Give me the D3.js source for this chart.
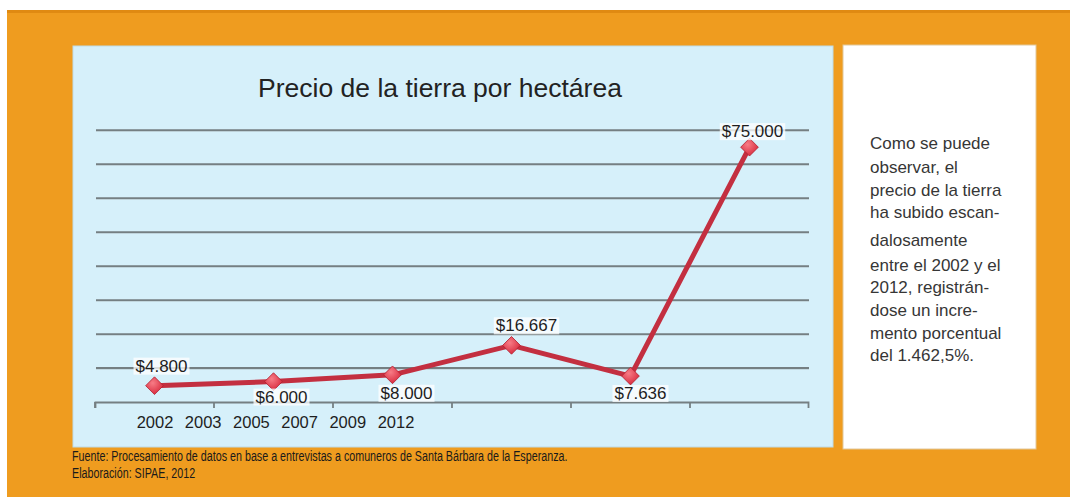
<!DOCTYPE html>
<html>
<head>
<meta charset="utf-8">
<script src="https://cdn.jsdelivr.net/npm/d3@7"></script>
<style>
  body { margin: 0; background: #fff; }
  svg { display: block; }
</style>
</head>
<body>
<div id="chart-area"></div>
<script>
// data
var categories = ["c1", "c2", "c3", "c4", "c5", "c6"];
var prices = [4800, 6000, 8000, 16667, 7636, 75000];
var priceLabels = ["$4.800", "$6.000", "$8.000", "$16.667", "$7.636", "$75.000"];
var yearLabels = ["2002", "2003", "2005", "2007", "2009", "2012"];
var noteLines = ["Como se puede", "observar, el", "precio de la tierra", "ha subido escan-",
    "dalosamente", "entre el 2002 y el", "2012, registrán-", "dose un incre-",
    "mento porcentual", "del 1.462,5%."];

var W = 1070, H = 499;
var svg = d3.select("#chart-area").append("svg")
    .attr("width", W).attr("height", H);

var defs = svg.append("defs");
var grad = defs.append("radialGradient").attr("id", "dia")
    .attr("cx", "40%").attr("cy", "35%").attr("r", "70%");
grad.append("stop").attr("offset", "0%").attr("stop-color", "#f77c86");
grad.append("stop").attr("offset", "100%").attr("stop-color", "#d7263a");

// background
svg.append("rect").attr("x", 7).attr("y", 10).attr("width", W - 7).attr("height", 487)
    .attr("fill", "#ef9c1f");
svg.append("rect").attr("x", 7).attr("y", 10).attr("width", W - 7).attr("height", 3)
    .attr("fill", "#e08a12");

// chart panel
svg.append("rect").attr("x", 73).attr("y", 46).attr("width", 760).attr("height", 401)
    .attr("fill", "#d6f0fa").attr("stroke", "#bfdbe6").attr("stroke-width", 1);

// note box
svg.append("rect").attr("x", 843).attr("y", 45).attr("width", 193).attr("height", 404)
    .attr("fill", "#ffffff").attr("stroke", "#e2c79a").attr("stroke-width", 1);

var margin = { left: 95, top: 120 };
var width = 809 - 95;
var height = 402 - 120;

var g = svg.append("g").attr("transform", "translate(" + margin.left + "," + margin.top + ")");

var x = d3.scaleBand().domain(categories).range([0, width]);
var y = d3.scaleLinear().domain([0, 83000]).range([height, 0]);

// gridlines
var ticks = d3.range(10000, 80001, 10000);
g.selectAll(".grid").data(ticks).enter().append("line")
    .attr("x1", 1).attr("x2", width)
    .attr("y1", d => y(d) + 1).attr("y2", d => y(d) + 1)
    .attr("stroke", "#b3c3c9").attr("stroke-width", 1);
g.selectAll(".grid2").data(ticks).enter().append("line")
    .attr("x1", 1).attr("x2", width)
    .attr("y1", d => y(d)).attr("y2", d => y(d))
    .attr("stroke", "#757f82").attr("stroke-width", 1.8);

// x axis
var xAxis = g.append("g").attr("transform", "translate(0," + height + ")")
    .call(d3.axisBottom(x).tickSize(6).tickFormat("").tickSizeOuter(6));
xAxis.select(".domain").attr("stroke", "#757f82").attr("stroke-width", 1.8)
    .attr("d", "M0.5,6V0.5H" + (width - 0.5) + "V6");
xAxis.selectAll(".tick line").attr("transform", "translate(" + (-x.bandwidth() / 2) + ",0)")
    .attr("stroke", "#757f82").attr("stroke-width", 1.8);

// year labels, crowded under the first bands as in the source
var yearPos = d3.scalePoint().domain(yearLabels).range([60, 301]);
g.selectAll(".year").data(yearLabels).enter().append("text")
    .attr("x", d => yearPos(d)).attr("y", height + 26)
    .attr("text-anchor", "middle")
    .attr("font-family", "Liberation Sans, Arial, sans-serif")
    .attr("font-size", 16.5).attr("fill", "#1e1e1e")
    .text(d => d);

// line
var line = d3.line().x((d, i) => x(categories[i]) + x.bandwidth() / 2).y(d => y(d));
g.append("path").datum(prices)
    .attr("d", line)
    .attr("fill", "none").attr("stroke", "#c32f40").attr("stroke-width", 5)
    .attr("stroke-linejoin", "round");

// markers
g.selectAll(".mk").data(prices).enter().append("path")
    .attr("d", d3.symbol().type(d3.symbolDiamond2).size(200))
    .attr("transform", (d, i) => "translate(" + (x(categories[i]) + x.bandwidth() / 2) + "," + y(d) + ")")
    .attr("fill", "url(#dia)").attr("stroke", "#b0202f").attr("stroke-width", 0.8);

// value labels: dx, dy offsets from the point
var labelOffsets = [[7, -20], [8, 15], [14, 18], [15, -20], [10, 17], [3, -16]];
var lbl = g.selectAll(".lbl").data(prices).enter().append("g")
    .attr("transform", (d, i) => "translate(" + (x(categories[i]) + x.bandwidth() / 2 + labelOffsets[i][0]) +
        "," + (y(d) + labelOffsets[i][1]) + ")");
lbl.append("text")
    .attr("text-anchor", "middle").attr("dy", "0.35em")
    .attr("font-family", "Liberation Sans, Arial, sans-serif")
    .attr("font-size", 17).attr("fill", "#1e1e1e")
    .text((d, i) => priceLabels[i])
    .each(function () {
        var b = this.getBBox();
        d3.select(this.parentNode).insert("rect", "text")
            .attr("x", b.x - 2).attr("y", b.y + 1).attr("width", b.width + 4).attr("height", b.height - 2)
            .attr("fill", "#ffffff").attr("opacity", 0.75);
    });

// title
svg.append("text").attr("x", 440).attr("y", 97).attr("text-anchor", "middle")
    .attr("font-family", "Liberation Sans, Arial, sans-serif")
    .attr("font-size", 26.5).attr("fill", "#222")
    .text("Precio de la tierra por hectárea");

// note text
var noteY = [143, 167, 190, 212, 240, 265, 287, 310, 333, 355];
svg.selectAll(".note").data(noteLines).enter().append("text")
    .attr("x", 870).attr("y", (d, i) => noteY[i] + 6)
    .attr("font-family", "Liberation Sans, Arial, sans-serif")
    .attr("font-size", 17).attr("fill", "#363636")
    .text(d => d);

// footer, condensed like the source
var foot = svg.append("g")
    .attr("transform", "translate(72,0) scale(0.74,1)")
    .attr("font-family", "Liberation Sans, Arial, sans-serif")
    .attr("font-size", 14.5).attr("fill", "#1a1a1a");
foot.append("text").attr("x", 0).attr("y", 461)
    .text("Fuente: Procesamiento de datos en base a entrevistas a comuneros de Santa Bárbara de la Esperanza.");
foot.append("text").attr("x", 0).attr("y", 478)
    .text("Elaboración: SIPAE, 2012");
</script>
</body>
</html>
